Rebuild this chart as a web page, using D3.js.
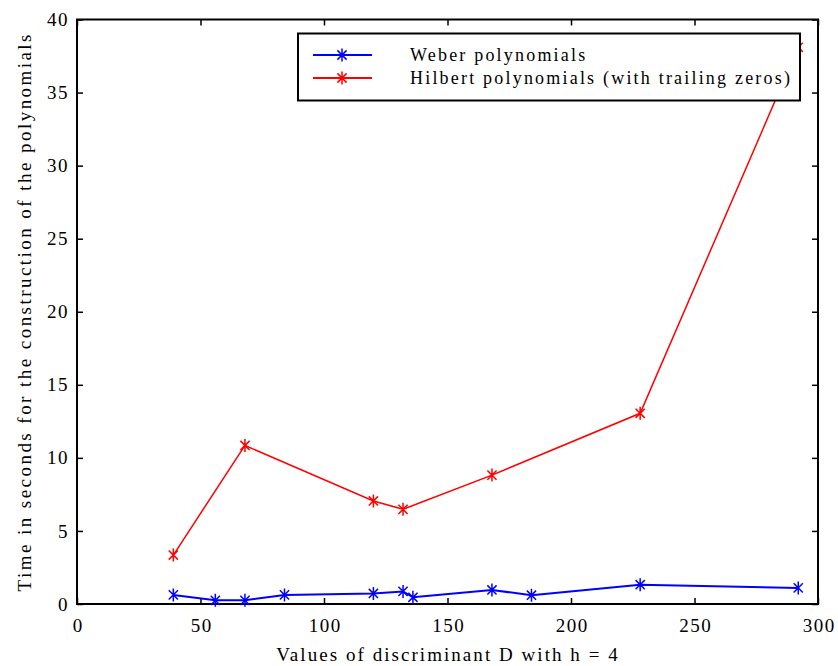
<!DOCTYPE html>
<html><head><meta charset="utf-8">
<script src="https://cdn.jsdelivr.net/npm/d3@7"></script>
<style>body{margin:0;background:#fff}svg{display:block}text{font-family:"Liberation Serif","Times New Roman",serif;fill:#000}</style>
</head><body><svg id="c" width="838" height="666"></svg>
<script>
const weberD = [39, 56, 68, 84, 120, 132, 136, 168, 184, 228, 292];
const weberT = [0.62, 0.25, 0.25, 0.62, 0.72, 0.86, 0.46, 0.96, 0.6, 1.32, 1.1];
const hilbertD = [39, 68, 120, 132, 168, 228, 292];
const hilbertT = [3.35, 10.85, 7.05, 6.48, 8.82, 13.05, 38.1];
const xTicks = [0, 50, 100, 150, 200, 250, 300];
const yTicks = [0, 5, 10, 15, 20, 25, 30, 35, 40];
const seriesNames = ["Weber polynomials", "Hilbert polynomials (with trailing zeros)"];
const seriesColors = ["#0000ff", "#ff0000"];

const svg = d3.select("#c");
const L = 77, R = 818, T = 19.5, B = 604;
const x = d3.scaleLinear().domain([0, 300]).range([L, R]);
const y = d3.scaleLinear().domain([0, 40]).range([B, T]);

const tk = 6;
svg.append("g").attr("transform", `translate(0,${B})`)
  .call(d3.axisBottom(x).tickValues(xTicks).tickSizeInner(-tk).tickSizeOuter(0).tickPadding(15))
  .call(g => { g.select(".domain").remove(); g.selectAll("text").attr("font-size", 19).attr("letter-spacing", "1.5px").attr("dx", "0.75px").attr("dy", "0.71em"); g.selectAll("line").attr("stroke-width", 1.5); });
svg.append("g").attr("transform", `translate(0,${T})`)
  .call(d3.axisTop(x).tickValues(xTicks).tickSizeInner(-tk).tickSizeOuter(0).tickFormat(""))
  .call(g => { g.select(".domain").remove(); g.selectAll("line").attr("stroke-width", 1.5); });
svg.append("g").attr("transform", `translate(${L},0)`)
  .call(d3.axisLeft(y).tickValues(yTicks).tickSizeInner(-tk).tickSizeOuter(0).tickPadding(8))
  .call(g => { g.select(".domain").remove(); g.selectAll("text").attr("font-size", 19).attr("letter-spacing", "1.5px"); g.selectAll("line").attr("stroke-width", 1.5); });
svg.append("g").attr("transform", `translate(${R},0)`)
  .call(d3.axisRight(y).tickValues(yTicks).tickSizeInner(-tk).tickSizeOuter(0).tickFormat(""))
  .call(g => { g.select(".domain").remove(); g.selectAll("line").attr("stroke-width", 1.5); });

svg.append("rect").attr("x", L).attr("y", T).attr("width", R - L).attr("height", B - T)
  .attr("fill", "none").attr("stroke", "#000").attr("stroke-width", 2);

function star(g, cx, cy, color) {
  const r = 6.5, dx = r * Math.cos(Math.PI / 4), dy = r * Math.sin(Math.PI / 4);
  const p = `M${cx},${cy - r}L${cx},${cy + r}M${cx - dx},${cy - dy}L${cx + dx},${cy + dy}M${cx - dx},${cy + dy}L${cx + dx},${cy - dy}`;
  g.append("path").attr("d", p).attr("stroke", color).attr("stroke-width", 1.5).attr("fill", "none");
}

const line = d3.line().x(d => x(d[0])).y(d => y(d[1]));
const series = [
  { d: weberD, t: weberT, c: seriesColors[0], w: 2 },
  { d: hilbertD, t: hilbertT, c: seriesColors[1], w: 1.5 }
];
series.forEach(s => {
  const pts = s.d.map((v, i) => [v, s.t[i]]);
  svg.append("path").attr("d", line(pts)).attr("fill", "none").attr("stroke", s.c).attr("stroke-width", s.w);
  const g = svg.append("g");
  pts.forEach(p => star(g, x(p[0]), y(p[1]), s.c));
});

const lg = svg.append("g");
lg.append("rect").attr("x", 298).attr("y", 33.5).attr("width", 502).attr("height", 67)
  .attr("fill", "#fff").attr("stroke", "#000").attr("stroke-width", 2);
seriesNames.forEach((n, i) => {
  const yy = 55 + i * 23;
  lg.append("line").attr("x1", 313).attr("x2", 372).attr("y1", yy).attr("y2", yy)
    .attr("stroke", seriesColors[i]).attr("stroke-width", 2);
  star(lg, 342, yy, seriesColors[i]);
  lg.append("text").attr("x", 410).attr("y", yy + 6).attr("font-size", 18)
    .attr("letter-spacing", "2.2px").text(n);
});

svg.append("text").attr("x", 448).attr("y", 661).attr("text-anchor", "middle")
  .attr("font-size", 19).attr("letter-spacing", "2.05px").text("Values of discriminant D with h = 4");
svg.append("text").attr("transform", `translate(31,${(T + B) / 2}) rotate(-90)`).attr("text-anchor", "middle")
  .attr("font-size", 19).attr("letter-spacing", "2.45px").text("Time in seconds for the construction of the polynomials");
</script></body></html>
